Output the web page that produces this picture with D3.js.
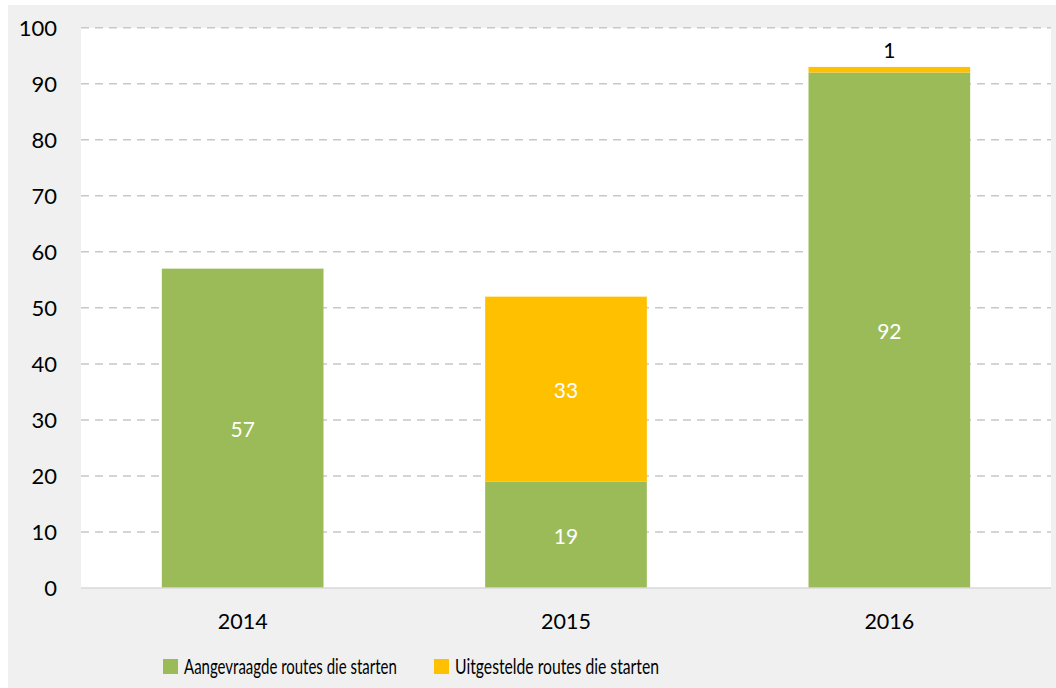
<!DOCTYPE html>
<html><head><meta charset="utf-8">
<script src="https://cdn.jsdelivr.net/npm/d3@7"></script>
<style>body{margin:0;background:#fff;}svg{display:block;}</style>
</head><body>
<svg id="c" width="1056" height="688"></svg>
<script>
const categories = ["2014", "2015", "2016"];
const aangevraagd = [57, 19, 92];
const uitgesteld = [0, 33, 1];
const seriesNames = ["Aangevraagde routes die starten", "Uitgestelde routes die starten"];
const seriesColors = ["#9bbb59", "#ffc000"];
const yTicks = [0, 10, 20, 30, 40, 50, 60, 70, 80, 90, 100];

(function () {
const svg = d3.select("#c");
const font = "Lato, 'Open Sans', sans-serif";
svg.append("rect").attr("x", 8).attr("y", 5).attr("width", 1048).attr("height", 683).attr("fill", "#f0f0f0");

const pLeft = 81, pRight = 1051, pTop = 27.7, pBottom = 588;
svg.append("rect").attr("x", pLeft).attr("y", pTop).attr("width", pRight - pLeft).attr("height", pBottom - pTop).attr("fill", "#fff");

const x = d3.scaleBand().domain(categories).range([pLeft, pRight]).paddingInner(0.5).paddingOuter(0.25);
const y = d3.scaleLinear().domain([0, 100]).range([pBottom, pTop]);

// gridlines
svg.append("g").selectAll("line").data(yTicks.filter(d => d > 0)).join("line")
  .attr("x1", pLeft).attr("x2", pRight)
  .attr("y1", d => y(d)).attr("y2", d => y(d))
  .attr("stroke", "#c8c8c8").attr("stroke-width", 1.5).attr("stroke-dasharray", "8,6");

// y axis
const yAxis = d3.axisLeft(y).tickValues(yTicks).tickSize(0).tickPadding(0).tickFormat(d3.format("d"));
const yg = svg.append("g").attr("transform", `translate(${pLeft - 24},0)`).call(yAxis);
yg.select(".domain").remove();
yg.selectAll("text").attr("font-family", font).attr("font-size", 22).attr("fill", "#000").attr("dy", "0.36em");

// stacked data
const rows = categories.map((c, i) => ({cat: c, a: aangevraagd[i], u: uitgesteld[i]}));
const stack = d3.stack().keys(["a", "u"])(rows);

stack.forEach((layer, li) => {
  svg.append("g").selectAll("rect").data(layer).join("rect")
    .attr("x", d => x(d.data.cat))
    .attr("width", x.bandwidth())
    .attr("y", d => y(d[1]))
    .attr("height", d => y(d[0]) - y(d[1]))
    .attr("fill", seriesColors[li]);
});

// zero line
svg.append("line").attr("x1", pLeft).attr("x2", pRight).attr("y1", y(0)).attr("y2", y(0))
  .attr("stroke", "#d9d9d9").attr("stroke-width", 1.5);

// labels
stack.forEach((layer, li) => {
  svg.append("g").selectAll("text").data(layer.filter(d => d[1] - d[0] > 0)).join("text")
    .attr("x", d => x(d.data.cat) + x.bandwidth() / 2)
    .attr("y", d => {
      const v = d[1] - d[0];
      return v < 5 ? y(d[1]) - 16 : y((d[0] + d[1]) / 2) + 1.5;
    })
    .attr("dy", "0.36em")
    .attr("text-anchor", "middle")
    .attr("font-family", font).attr("font-size", 21)
    .attr("fill", d => (d[1] - d[0]) < 5 ? "#000" : "#fff")
    .text(d => d[1] - d[0]);
});

// x axis
const xAxis = d3.axisBottom(x).tickSize(0).tickPadding(0);
const xg = svg.append("g").attr("transform", `translate(0,${pBottom + 33.5})`).call(xAxis);
xg.select(".domain").remove();
xg.selectAll("text").attr("font-family", font).attr("font-size", 21.5).attr("fill", "#000").attr("dy", "0.36em");

// legend
const legX = [163, 434];
const legW = [213, 204];
seriesNames.forEach((n, i) => {
  const g = svg.append("g").attr("transform", `translate(${legX[i]},659)`);
  g.append("rect").attr("width", 15).attr("height", 15).attr("fill", seriesColors[i]);
  const t = g.append("text").attr("x", 0).attr("y", 0)
    .attr("font-family", font).attr("font-size", 21.5).attr("fill", "#000").text(n);
  const w = t.node().getComputedTextLength();
  const sx = w > 0 ? legW[i] / w : 1;
  t.attr("transform", `translate(21,15.3) scale(${sx},1)`);
});
})();
</script>
</body></html>
